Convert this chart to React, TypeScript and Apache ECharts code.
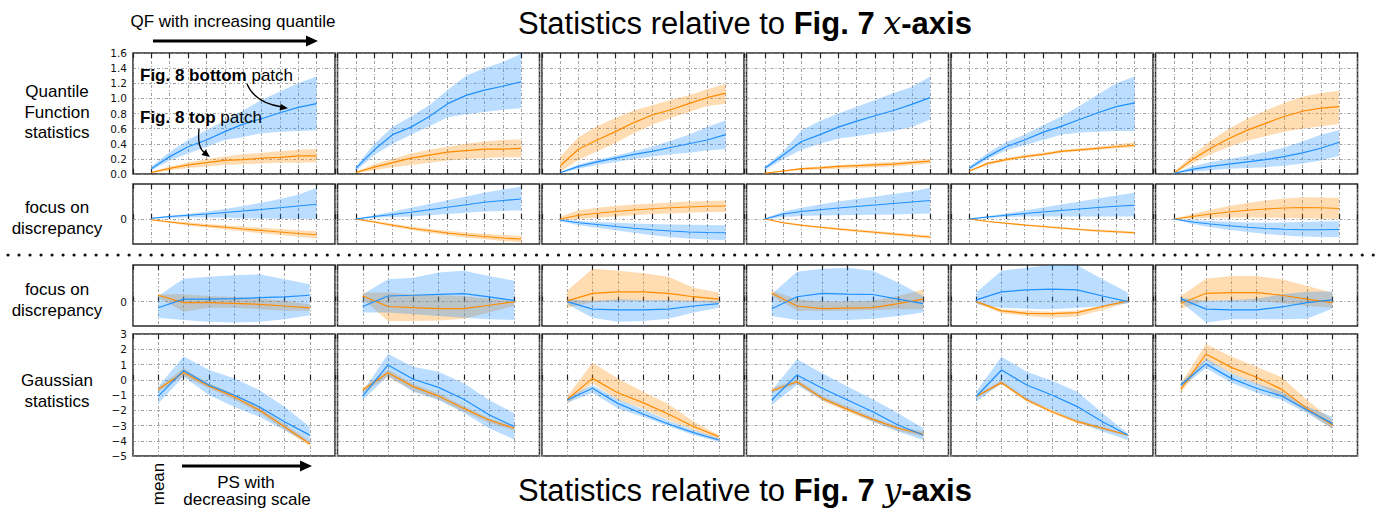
import React, { useEffect, useRef } from "react";
import * as echarts from "echarts";

// ---------------- DATA ----------------
// Row 1: Quantile Function statistics (10 quantiles per panel, 6 panels)
const qfBlueMean = [
  [0.07, 0.23, 0.36, 0.45, 0.56, 0.66, 0.73, 0.81, 0.88, 0.93],
  [0.075, 0.32, 0.52, 0.62, 0.76, 0.93, 1.04, 1.11, 1.16, 1.22],
  [0.02, 0.1, 0.16, 0.21, 0.26, 0.3, 0.35, 0.4, 0.45, 0.52],
  [0.075, 0.25, 0.43, 0.52, 0.62, 0.7, 0.77, 0.84, 0.92, 1.01],
  [0.075, 0.23, 0.36, 0.45, 0.55, 0.63, 0.72, 0.81, 0.89, 0.94],
  [0.01, 0.06, 0.1, 0.13, 0.16, 0.19, 0.23, 0.28, 0.34, 0.42],
];
const qfBlueHi = [
  [0.1, 0.29, 0.45, 0.58, 0.71, 0.84, 0.98, 1.09, 1.2, 1.29],
  [0.1, 0.4, 0.62, 0.76, 0.91, 1.11, 1.3, 1.4, 1.48, 1.59],
  [0.02, 0.13, 0.19, 0.24, 0.3, 0.36, 0.44, 0.52, 0.62, 0.71],
  [0.1, 0.3, 0.58, 0.7, 0.8, 0.89, 0.98, 1.07, 1.15, 1.29],
  [0.1, 0.28, 0.42, 0.52, 0.64, 0.76, 0.9, 1.05, 1.2, 1.29],
  [0.01, 0.1, 0.16, 0.2, 0.24, 0.29, 0.35, 0.43, 0.52, 0.58],
];
const qfBlueLo = [
  [0.05, 0.18, 0.27, 0.36, 0.45, 0.49, 0.54, 0.56, 0.57, 0.58],
  [0.04, 0.25, 0.4, 0.52, 0.63, 0.75, 0.79, 0.82, 0.85, 0.87],
  [0.01, 0.07, 0.12, 0.16, 0.2, 0.23, 0.26, 0.28, 0.31, 0.33],
  [0.05, 0.2, 0.32, 0.4, 0.47, 0.5, 0.54, 0.57, 0.62, 0.72],
  [0.05, 0.2, 0.31, 0.38, 0.45, 0.52, 0.55, 0.56, 0.57, 0.57],
  [0.005, 0.03, 0.05, 0.07, 0.08, 0.09, 0.11, 0.14, 0.18, 0.24],
];
const qfOrangeMean = [
  [0.02, 0.075, 0.12, 0.15, 0.18, 0.19, 0.21, 0.22, 0.24, 0.24],
  [0.02, 0.09, 0.15, 0.21, 0.25, 0.29, 0.31, 0.33, 0.33, 0.34],
  [0.11, 0.33, 0.45, 0.56, 0.68, 0.78, 0.85, 0.93, 1.01, 1.07],
  [0.01, 0.04, 0.07, 0.08, 0.1, 0.11, 0.12, 0.13, 0.15, 0.17],
  [0.04, 0.14, 0.19, 0.23, 0.26, 0.3, 0.32, 0.34, 0.36, 0.38],
  [0.01, 0.19, 0.34, 0.47, 0.58, 0.67, 0.76, 0.83, 0.87, 0.89],
];
const qfOrangeHi = [
  [0.03, 0.1, 0.15, 0.2, 0.23, 0.26, 0.28, 0.3, 0.32, 0.33],
  [0.03, 0.13, 0.2, 0.27, 0.32, 0.36, 0.4, 0.43, 0.45, 0.46],
  [0.23, 0.49, 0.63, 0.74, 0.84, 0.91, 0.98, 1.04, 1.12, 1.19],
  [0.015, 0.05, 0.08, 0.1, 0.12, 0.13, 0.15, 0.16, 0.18, 0.2],
  [0.05, 0.16, 0.21, 0.25, 0.28, 0.32, 0.34, 0.36, 0.39, 0.42],
  [0.02, 0.25, 0.44, 0.6, 0.73, 0.84, 0.94, 1.02, 1.07, 1.1],
];
const qfOrangeLo = [
  [0.01, 0.05, 0.08, 0.1, 0.12, 0.13, 0.14, 0.15, 0.15, 0.16],
  [0.01, 0.05, 0.09, 0.12, 0.15, 0.18, 0.2, 0.21, 0.22, 0.22],
  [0.03, 0.19, 0.3, 0.41, 0.54, 0.65, 0.74, 0.82, 0.9, 0.93],
  [0.005, 0.03, 0.05, 0.06, 0.07, 0.08, 0.09, 0.1, 0.12, 0.14],
  [0.03, 0.12, 0.17, 0.21, 0.24, 0.28, 0.3, 0.32, 0.34, 0.35],
  [0.005, 0.14, 0.26, 0.36, 0.44, 0.5, 0.56, 0.6, 0.63, 0.66],
];

// Row 2: QF focus on discrepancy
const qfdBlueMean = [
  [0.03, 0.1, 0.15, 0.2, 0.26, 0.32, 0.38, 0.45, 0.52, 0.59],
  [0, 0.1, 0.18, 0.27, 0.37, 0.47, 0.57, 0.67, 0.74, 0.8],
  [-0.05, -0.15, -0.22, -0.3, -0.37, -0.43, -0.48, -0.52, -0.54, -0.55],
  [0, 0.2, 0.3, 0.37, 0.44, 0.5, 0.56, 0.62, 0.68, 0.74],
  [0, 0.08, 0.15, 0.22, 0.28, 0.34, 0.4, 0.46, 0.51, 0.55],
  [0, -0.12, -0.2, -0.27, -0.33, -0.38, -0.41, -0.43, -0.43, -0.42],
];
const qfdBlueHi = [
  [0.05, 0.13, 0.2, 0.3, 0.4, 0.52, 0.65, 0.8, 0.97, 1.25],
  [0.02, 0.15, 0.3, 0.45, 0.6, 0.75, 0.9, 1.05, 1.18, 1.3],
  [0, -0.08, -0.12, -0.15, -0.18, -0.2, -0.22, -0.23, -0.24, -0.25],
  [0.02, 0.3, 0.45, 0.58, 0.7, 0.8, 0.9, 1.0, 1.1, 1.25],
  [0.02, 0.12, 0.22, 0.34, 0.46, 0.58, 0.7, 0.82, 0.94, 1.05],
  [0, -0.04, -0.08, -0.11, -0.14, -0.15, -0.14, -0.12, -0.1, -0.09],
];
const qfdBlueLo = [
  [0, 0.04, 0.06, 0.06, 0.05, 0.03, 0.02, 0.01, 0.01, 0],
  [-0.02, 0.05, 0.08, 0.1, 0.15, 0.2, 0.25, 0.3, 0.32, 0.35],
  [-0.08, -0.25, -0.35, -0.45, -0.55, -0.65, -0.72, -0.78, -0.82, -0.85],
  [-0.02, 0.08, 0.12, 0.14, 0.15, 0.16, 0.17, 0.18, 0.2, 0.22],
  [-0.02, 0.04, 0.08, 0.1, 0.1, 0.1, 0.1, 0.1, 0.1, 0.1],
  [0, -0.2, -0.33, -0.43, -0.52, -0.6, -0.66, -0.7, -0.72, -0.72],
];
const qfdOrangeMean = [
  [-0.03, -0.12, -0.2, -0.27, -0.33, -0.4, -0.46, -0.52, -0.58, -0.63],
  [0, -0.12, -0.25, -0.37, -0.47, -0.56, -0.64, -0.7, -0.76, -0.8],
  [0, 0.15, 0.23, 0.3, 0.36, 0.41, 0.45, 0.48, 0.51, 0.52],
  [0, -0.15, -0.25, -0.33, -0.4, -0.47, -0.53, -0.6, -0.66, -0.72],
  [0, -0.1, -0.17, -0.24, -0.3, -0.36, -0.42, -0.47, -0.51, -0.55],
  [0, 0.1, 0.2, 0.28, 0.35, 0.4, 0.44, 0.46, 0.45, 0.42],
];
const qfdOrangeHi = [
  [-0.01, -0.08, -0.14, -0.2, -0.25, -0.3, -0.35, -0.4, -0.45, -0.49],
  [0.02, -0.08, -0.19, -0.3, -0.39, -0.47, -0.54, -0.59, -0.64, -0.67],
  [0.1, 0.35, 0.45, 0.52, 0.58, 0.62, 0.66, 0.7, 0.72, 0.74],
  [0.01, -0.12, -0.21, -0.29, -0.35, -0.42, -0.48, -0.54, -0.6, -0.66],
  [0.01, -0.08, -0.14, -0.21, -0.26, -0.32, -0.38, -0.42, -0.46, -0.5],
  [0, 0.2, 0.37, 0.52, 0.64, 0.74, 0.82, 0.87, 0.86, 0.84],
];
const qfdOrangeLo = [
  [-0.05, -0.16, -0.26, -0.34, -0.41, -0.5, -0.57, -0.64, -0.71, -0.77],
  [-0.02, -0.16, -0.31, -0.44, -0.55, -0.65, -0.74, -0.81, -0.88, -0.93],
  [-0.05, 0, 0.05, 0.1, 0.15, 0.2, 0.22, 0.25, 0.28, 0.28],
  [-0.01, -0.18, -0.29, -0.37, -0.45, -0.52, -0.58, -0.66, -0.72, -0.78],
  [-0.01, -0.12, -0.2, -0.27, -0.34, -0.4, -0.46, -0.52, -0.56, -0.6],
  [0, 0.02, 0.05, 0.06, 0.06, 0.05, 0.04, 0.03, 0.02, 0],
];

// Row 3: Gaussian focus on discrepancy (mean + 6 scales)
const gdBlueMean = [
  [-0.25, 0.1, 0.1, 0.12, 0.16, 0.19, 0.26],
  [-0.2, 0.23, 0.26, 0.3, 0.33, 0.19, 0.05],
  [0, -0.31, -0.34, -0.34, -0.31, -0.18, -0.08],
  [-0.29, 0.2, 0.34, 0.31, 0.29, 0.1, -0.08],
  [0.07, 0.4, 0.48, 0.51, 0.48, 0.23, 0],
  [0.12, -0.31, -0.34, -0.34, -0.22, -0.04, 0.07],
];
const gdBlueHi = [
  [0.23, 0.94, 1.02, 1.08, 1.12, 0.92, 0.71],
  [0.3, 0.92, 0.98, 1.19, 1.26, 1.05, 0.85],
  [0.1, 0.03, 0.1, 0.07, 0.07, 0.03, 0.03],
  [0.3, 1.22, 1.35, 1.39, 1.26, 0.78, 0.23],
  [0.37, 1.26, 1.39, 1.5, 1.49, 0.92, 0.37],
  [0.16, 0.03, 0.07, 0.12, 0.3, 0.4, 0.41],
];
const gdBlueLo = [
  [-0.66, -0.75, -0.83, -0.86, -0.83, -0.72, -0.56],
  [-0.45, -0.45, -0.52, -0.59, -0.66, -0.72, -0.75],
  [-0.11, -0.66, -0.83, -0.79, -0.7, -0.45, -0.25],
  [-0.59, -0.75, -0.75, -0.75, -0.7, -0.59, -0.45],
  [-0.11, -0.25, -0.29, -0.31, -0.25, -0.18, -0.08],
  [-0.01, -0.86, -0.72, -0.72, -0.72, -0.7, -0.29],
];
const gdOrangeMean = [
  [0.26, -0.04, -0.04, -0.07, -0.11, -0.18, -0.26],
  [0.23, -0.2, -0.25, -0.29, -0.29, -0.15, -0.01],
  [0.03, 0.34, 0.4, 0.4, 0.34, 0.2, 0.1],
  [0.34, -0.18, -0.29, -0.27, -0.25, -0.08, 0.1],
  [0, -0.38, -0.48, -0.49, -0.45, -0.2, 0.03],
  [-0.08, 0.34, 0.37, 0.37, 0.26, 0.1, -0.04],
];
const gdOrangeHi = [
  [0.3, 0.3, 0.23, 0.19, 0.12, 0.03, -0.11],
  [0.37, 0.37, 0.3, 0.26, 0.23, 0.12, 0.03],
  [0.44, 1.35, 1.26, 1.16, 1.02, 0.57, 0.37],
  [0.44, 0.1, -0.01, -0.01, 0.03, 0.23, 0.5],
  [0.05, -0.31, -0.38, -0.42, -0.38, -0.15, 0.07],
  [0.23, 0.94, 1.05, 1.05, 0.92, 0.64, 0.37],
];
const gdOrangeLo = [
  [0.16, -0.42, -0.25, -0.25, -0.31, -0.38, -0.38],
  [0.1, -0.79, -0.79, -0.77, -0.7, -0.45, -0.18],
  [-0.25, -0.04, 0.03, 0.03, 0.03, -0.01, -0.07],
  [0.23, -0.38, -0.38, -0.38, -0.34, -0.31, -0.31],
  [-0.07, -0.48, -0.59, -0.66, -0.61, -0.34, -0.04],
  [-0.29, 0.03, 0.03, 0.03, -0.07, -0.18, -0.25],
];

// Row 4: Gaussian statistics
const gsBlueMean = [
  [-1.07, 0.6, -0.34, -1.0, -1.77, -2.76, -3.63],
  [-1.07, 0.97, 0.03, -0.5, -1.28, -2.3, -3.07],
  [-1.33, -0.56, -1.55, -2.25, -2.9, -3.47, -3.95],
  [-1.33, 0.31, -0.56, -1.33, -2.1, -2.97, -3.62],
  [-1.1, 0.64, -0.34, -1.0, -1.76, -2.75, -3.62],
  [-0.34, 1.04, 0.09, -0.56, -1.07, -1.98, -2.86],
];
const gsBlueHi = [
  [-0.45, 1.53, 0.65, 0.1, -0.67, -1.77, -3.09],
  [-0.78, 1.69, 0.86, 0.53, -0.23, -1.33, -2.2],
  [-1.15, -0.34, -1.28, -1.94, -2.68, -3.29, -3.84],
  [-0.72, 1.34, 0.42, -0.45, -1.28, -2.2, -3.18],
  [-0.78, 1.51, 0.53, -0.06, -0.78, -2.2, -3.51],
  [-0.19, 1.4, 0.42, -0.24, -0.78, -1.76, -2.42],
];
const gsBlueLo = [
  [-1.55, 0.21, -1.0, -1.77, -2.43, -3.31, -4.19],
  [-1.33, 0.24, -0.78, -1.33, -2.17, -3.18, -3.91],
  [-1.5, -0.85, -1.88, -2.42, -3.03, -3.62, -4.06],
  [-1.65, -0.34, -1.33, -1.98, -2.75, -3.4, -3.95],
  [-1.44, -0.23, -1.33, -1.98, -2.75, -3.4, -3.95],
  [-0.5, 0.75, -0.19, -0.85, -1.33, -2.2, -3.18],
];
const gsOrangeMean = [
  [-0.63, 0.47, -0.41, -1.11, -1.99, -3.09, -4.19],
  [-0.67, 0.46, -0.45, -1.07, -1.88, -2.64, -3.18],
  [-1.28, 0.09, -0.85, -1.5, -2.25, -3.07, -3.73],
  [-0.72, -0.13, -1.22, -1.94, -2.6, -3.18, -3.56],
  [-1.1, -0.19, -1.33, -2.1, -2.75, -3.18, -3.62],
  [-0.63, 1.69, 0.81, 0.16, -0.63, -1.88, -2.97],
];
const gsOrangeHi = [
  [-0.5, 0.76, -0.23, -0.93, -1.77, -2.91, -4.01],
  [-0.52, 0.68, -0.28, -0.89, -1.72, -2.53, -3.03],
  [-1.1, 1.12, 0.09, -0.78, -1.59, -2.74, -3.62],
  [-0.56, 0.03, -1.07, -1.76, -2.46, -3.07, -3.4],
  [-1.0, -0.05, -1.2, -1.98, -2.64, -3.07, -3.55],
  [-0.24, 2.35, 1.52, 0.86, 0.16, -1.33, -2.64],
];
const gsOrangeLo = [
  [-0.78, 0.25, -0.56, -1.29, -2.16, -3.27, -4.36],
  [-0.85, 0.2, -0.72, -1.28, -2.1, -2.82, -3.34],
  [-1.59, -0.23, -1.33, -1.88, -2.64, -3.29, -3.91],
  [-0.85, -0.28, -1.37, -2.1, -2.75, -3.34, -3.73],
  [-1.2, -0.3, -1.45, -2.2, -2.86, -3.3, -3.7],
  [-0.85, 1.3, 0.42, -0.28, -1.1, -2.1, -3.25],
];

// ---------------- STYLE / LAYOUT ----------------
const BLUE = "#1E90FF";
const ORANGE = "#FF8C00";
const GRID_COLOR = "#8a8a8a";
const SANS = "'Liberation Sans', Arial, sans-serif";
const TICK_FONT = "'DejaVu Sans', sans-serif";
const COL_LEFT = [133, 337.5, 542, 746.5, 951, 1155.5];
const PANEL_W = 202;

const fmtFixed = (v: number) => v.toFixed(1);
const fmtZero = (v: number) => (Math.abs(v) < 1e-9 ? "0" : "");
const fmtInt = (v: number) => (v < 0 ? "\u2212" + Math.abs(v) : String(v));

const ROWS = [
  { top: 53, height: 121, n: 10, min: 0, max: 1.6, interval: 0.2, fmt: fmtFixed, zero: false,
    bm: qfBlueMean, bl: qfBlueLo, bh: qfBlueHi, om: qfOrangeMean, ol: qfOrangeLo, oh: qfOrangeHi },
  { top: 184, height: 60, n: 10, min: -1, max: 1.4, interval: 1, fmt: fmtZero, zero: true,
    bm: qfdBlueMean, bl: qfdBlueLo, bh: qfdBlueHi, om: qfdOrangeMean, ol: qfdOrangeLo, oh: qfdOrangeHi },
  { top: 265, height: 61, n: 7, min: -1, max: 1.5, interval: 1, fmt: fmtZero, zero: true,
    bm: gdBlueMean, bl: gdBlueLo, bh: gdBlueHi, om: gdOrangeMean, ol: gdOrangeLo, oh: gdOrangeHi },
  { top: 334, height: 122, n: 7, min: -5, max: 3, interval: 1, fmt: fmtInt, zero: false,
    bm: gsBlueMean, bl: gsBlueLo, bh: gsBlueHi, om: gsOrangeMean, ol: gsOrangeLo, oh: gsOrangeHi },
];

function arrowHead(tx: number, ty: number, dx: number, dy: number, len: number, half: number) {
  const L = Math.hypot(dx, dy);
  const ux = dx / L, uy = dy / L;
  const bx = tx - ux * len, by = ty - uy * len;
  return [[tx, ty], [bx - uy * half, by + ux * half], [bx + uy * half, by - ux * half]];
}

function buildOption() {
  const grid: any[] = [], xAxis: any[] = [], yAxis: any[] = [], series: any[] = [];
  const gridLine = { color: GRID_COLOR, width: 0.8, type: [3, 2, 1, 2] };
  const tick = { show: true, inside: true, length: 5, lineStyle: { color: "#222", width: 1.2 } };

  ROWS.forEach((row) => {
    for (let c = 0; c < 6; c++) {
      const gi = grid.length;
      grid.push({ left: COL_LEFT[c], top: row.top, width: PANEL_W, height: row.height, show: true,
        borderColor: "#2b2b2b", borderWidth: 1.5, containLabel: false });
      xAxis.push({ gridIndex: gi, type: "value", min: -1, max: row.n, interval: 1, position: "bottom",
        axisLine: { show: false }, axisTick: tick, axisLabel: { show: false },
        splitLine: { show: true, lineStyle: gridLine } });
      xAxis.push({ gridIndex: gi, type: "value", min: -1, max: row.n, interval: 1, position: "top",
        axisLine: { show: false }, axisTick: tick, axisLabel: { show: false }, splitLine: { show: false } });
      yAxis.push({ gridIndex: gi, type: "value", min: row.min, max: row.max, interval: row.interval,
        axisLine: { show: false }, axisTick: { show: false },
        axisLabel: { show: c === 0, formatter: row.fmt, fontSize: 10.5, fontFamily: TICK_FONT, color: "#111", margin: 6 },
        splitLine: { show: !row.zero, lineStyle: gridLine } });

      const xi = 2 * gi;
      // uncertainty band drawn as one polygon through the axis scales
      const band = (lo: number[], hi: number[], color: string, withZero: boolean) => {
        series.push({
          type: "custom", xAxisIndex: xi, yAxisIndex: gi, silent: true, z: 1,
          data: lo.map((v, i) => [i, v, hi[i]]),
          encode: { x: 0, y: [1, 2] },
          renderItem: (params: any, api: any) => {
            if (params.dataIndex !== 0) return null;
            const upper = hi.map((v, i) => api.coord([i, v]));
            const lower = lo.map((v, i) => api.coord([i, v])).reverse();
            return { type: "polygon", shape: { points: upper.concat(lower) },
              style: { fill: color, opacity: 0.3 } };
          },
          markLine: withZero ? { silent: true, symbol: "none", label: { show: false }, animation: false,
            lineStyle: { color: GRID_COLOR, width: 0.8, type: [3, 2, 1, 2] }, data: [{ yAxis: 0 }] } : undefined,
        });
      };
      band(row.ol[c], row.oh[c], ORANGE, row.zero);
      band(row.bl[c], row.bh[c], BLUE, false);
      series.push({ type: "line", xAxisIndex: xi, yAxisIndex: gi, data: row.om[c].map((v, i) => [i, v]),
        symbol: "none", lineStyle: { color: ORANGE, width: 1.2 }, silent: true, z: 3 });
      series.push({ type: "line", xAxisIndex: xi, yAxisIndex: gi, data: row.bm[c].map((v, i) => [i, v]),
        symbol: "none", lineStyle: { color: BLUE, width: 1.2 }, silent: true, z: 3 });
    }
  });

  const txt = (text: string, x: number, y: number, size: number, extra: any = {}) => ({
    type: "text", x, y, silent: true, z: 10,
    style: { text, fill: "#000", fontSize: size, fontFamily: SANS, align: "center", verticalAlign: "middle",
      lineHeight: size * 1.22, ...extra },
  });
  const titleRich = { b: { fontWeight: "bold", fontSize: 31, fontFamily: SANS },
    i: { fontStyle: "italic", fontSize: 32, fontFamily: "'DejaVu Serif', serif" } };

  const graphic: any[] = [
    txt("Statistics relative to {b|Fig. 7} {i|x}{b|-axis}", 745, 23, 31, { rich: titleRich }),
    txt("Statistics relative to {b|Fig. 7} {i|y}{b|-axis}", 745, 490, 31, { rich: titleRich }),
    txt("QF with increasing quantile", 233, 21, 17),
    { type: "line", silent: true, z: 10, shape: { x1: 153, y1: 41, x2: 309, y2: 41 }, style: { stroke: "#000", lineWidth: 3 } },
    { type: "polygon", silent: true, z: 10, shape: { points: arrowHead(318, 41, 1, 0, 12, 5.5) }, style: { fill: "#000" } },
    txt("Quantile\nFunction\nstatistics", 57, 112, 17),
    txt("focus on\ndiscrepancy", 57, 218, 17),
    txt("focus on\ndiscrepancy", 57, 300, 17),
    txt("Gaussian\nstatistics", 57, 391, 17),
    txt("{b|Fig. 8 bottom} patch", 140, 75, 17, { align: "left", rich: { b: { fontWeight: "bold", fontSize: 17, fontFamily: SANS } } }),
    txt("{b|Fig. 8 top} patch", 140, 117, 17, { align: "left", rich: { b: { fontWeight: "bold", fontSize: 17, fontFamily: SANS } } }),
    { type: "bezierCurve", silent: true, z: 10, shape: { x1: 247, y1: 84, cpx1: 255, cpy1: 103, x2: 282, y2: 107 },
      style: { stroke: "#000", lineWidth: 1.3, fill: "none" } },
    { type: "polygon", silent: true, z: 10, shape: { points: arrowHead(288, 108.3, 27, 4, 8, 3.5) }, style: { fill: "#000" } },
    { type: "bezierCurve", silent: true, z: 10, shape: { x1: 199, y1: 129, cpx1: 197, cpy1: 148, x2: 205, y2: 153 },
      style: { stroke: "#000", lineWidth: 1.3, fill: "none" } },
    { type: "polygon", silent: true, z: 10, shape: { points: arrowHead(210, 157, 8, 6, 8, 3.5) }, style: { fill: "#000" } },
    { type: "line", silent: true, z: 10, shape: { x1: 8, y1: 255, x2: 1380, y2: 255 },
      style: { stroke: "#111", lineWidth: 3.2, lineCap: "round", lineDash: [0.01, 11] } },
    { type: "text", silent: true, z: 10, x: 158, y: 484, rotation: Math.PI / 2,
      style: { text: "mean", fill: "#000", fontSize: 17, fontFamily: SANS, align: "center", verticalAlign: "middle" } },
    { type: "line", silent: true, z: 10, shape: { x1: 182, y1: 466, x2: 303, y2: 466 }, style: { stroke: "#000", lineWidth: 3 } },
    { type: "polygon", silent: true, z: 10, shape: { points: arrowHead(312, 466, 1, 0, 12, 5.5) }, style: { fill: "#000" } },
    txt("PS with", 246, 482, 17),
    txt("decreasing scale", 247, 499, 17),
  ];

  return { animation: false, backgroundColor: "#fff", grid, xAxis, yAxis, series, graphic };
}

export default function App() {
  const ref = useRef<HTMLDivElement>(null);
  useEffect(() => {
    if (!ref.current) return;
    const chart = echarts.init(ref.current, null, { renderer: "svg", width: 1382, height: 508 });
    chart.setOption(buildOption() as any);
    return () => chart.dispose();
  }, []);
  return (
    <div ref={ref}
      style={{ position: "fixed", left: 0, top: 0, width: 1382, height: 508, background: "#fff" }} />
  );
}
